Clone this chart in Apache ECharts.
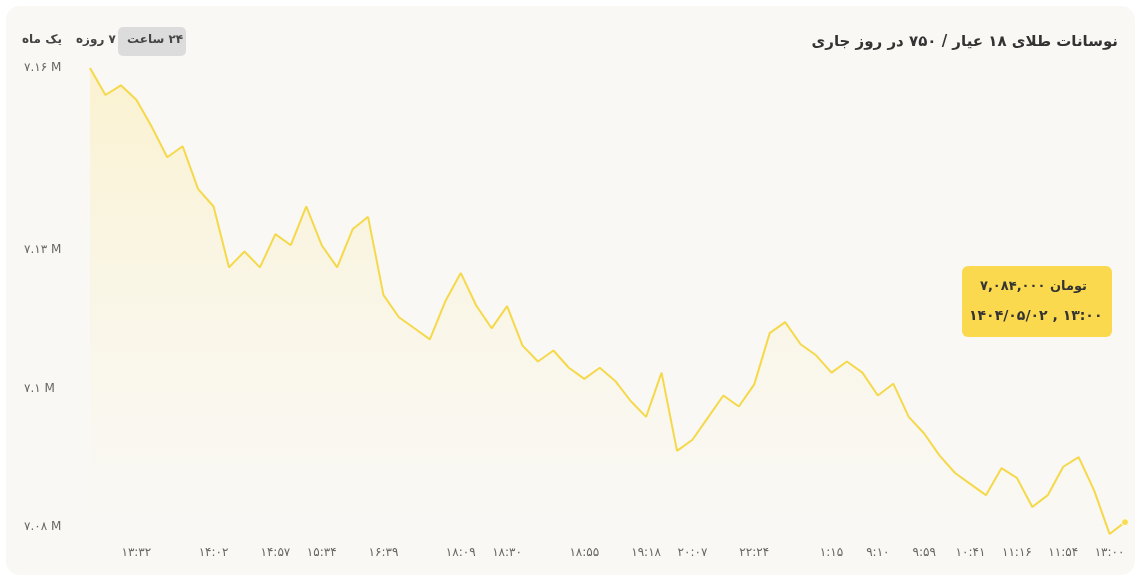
<!DOCTYPE html>
<html><head><meta charset="utf-8">
<script src="https://cdn.jsdelivr.net/npm/echarts@6/dist/echarts.min.js"></script>
<style>html,body{margin:0;background:#fff}#c{width:1141px;height:581px}</style></head>
<body><div id="c"></div>
<script>
const prices=[7146300,7142400,7143800,7141700,7137800,7133400,7135000,7128800,7126300,7117500,7119800,7117500,7122300,7120700,7126300,7120700,7117500,7123000,7124800,7113500,7110300,7108700,7107100,7112600,7116700,7112000,7108700,7111900,7106200,7103900,7105500,7103000,7101400,7103000,7101100,7098200,7095900,7102300,7091000,7092600,7095800,7099000,7097400,7100600,7108000,7109600,7106400,7104800,7102300,7103900,7102300,7099000,7100700,7095900,7093500,7090300,7087800,7086200,7084600,7088500,7087100,7082900,7084600,7088700,7090100,7085300,7079000,7080700];
const xLabels={3:'۱۳:۳۲',8:'۱۴:۰۲',12:'۱۴:۵۷',15:'۱۵:۳۴',19:'۱۶:۳۹',24:'۱۸:۰۹',27:'۱۸:۳۰',32:'۱۸:۵۵',36:'۱۹:۱۸',39:'۲۰:۰۷',43:'۲۲:۲۴',48:'۱:۱۵',51:'۹:۱۰',54:'۹:۵۹',57:'۱۰:۴۱',60:'۱۱:۱۶',63:'۱۱:۵۴',66:'۱۳:۰۰'};
const yLabels={7080000:'۷.۰۸ M',7100000:'۷.۱ M',7120000:'۷.۱۳ M',7146300:'۷.۱۶ M'};
const title='نوسانات طلای ۱۸ عیار / ۷۵۰ در روز جاری';
const tabs=['یک ماه','۷ روزه','۲۴ ساعت'];
const tipPrice='۷,۰۸۴,۰۰۰ تومان';
const tipDate='۱۴۰۴/۰۵/۰۲ , ۱۳:۰۰';
const cats=prices.map((_,i)=>i);
const F='DejaVu Sans';
const RLM='\u200F';
const data=prices.map((v,i)=>i===prices.length-1?{value:v,symbol:'circle',symbolSize:7,itemStyle:{color:'#f7dd55',borderColor:'#fff',borderWidth:1}}:v);
const chart=echarts.init(document.getElementById('c'));
chart.setOption({
 backgroundColor:'#fff',
 animation:false,
 grid:{left:90,right:16,top:68,bottom:54},
 title:{text:title,right:18,top:30,textStyle:{fontFamily:F,fontSize:15,fontWeight:'bold',color:'#333'}},
 xAxis:{type:'category',data:cats,boundaryGap:false,axisLine:{show:false},axisTick:{show:false},
  axisLabel:{interval:0,margin:20,fontFamily:F,fontSize:12,color:'#666',formatter:(v)=>xLabels[v]||''}},
 yAxis:{type:'value',min:7080000,max:7146300,interval:20000,splitLine:{show:false},
  axisLabel:{inside:true,showMaxLabel:true,margin:-66,fontFamily:F,fontSize:12,color:'#666',verticalAlign:'middle',align:'left',formatter:(v)=>yLabels[v]||''}},
 series:[{type:'line',data:data,clip:false,showSymbol:true,symbol:'none',lineStyle:{color:'#f5d94a',width:2},
  areaStyle:{color:new echarts.graphic.LinearGradient(0,0,0,1,[{offset:0,color:'rgba(252,232,150,0.55)'},{offset:1,color:'rgba(252,240,200,0)'}])}}],
 graphic:[
  {type:'rect',left:0,top:0,shape:{width:1141,height:581,r:0},style:{fill:'#fff'},z:-20},
  {type:'rect',left:6,top:6,shape:{width:1129,height:569,r:14},style:{fill:'#f9f8f4'},z:-10},
  {type:'rect',left:118,top:27,shape:{width:68,height:29,r:5},style:{fill:'#dcdcdc'},z:5},
  {type:'text',left:127,top:34,style:{text:RLM+tabs[2],font:'bold 12px "DejaVu Sans"',fill:'#444'},z:6},
  {type:'text',left:76,top:34,style:{text:RLM+tabs[1],font:'bold 12px "DejaVu Sans"',fill:'#444'},z:6},
  {type:'text',left:22,top:34,style:{text:RLM+tabs[0],font:'bold 12px "DejaVu Sans"',fill:'#444'},z:6},
  {type:'rect',left:962,top:266,shape:{width:150,height:71,r:6},style:{fill:'#fbd94f'},z:10},
  {type:'text',left:980,top:280,style:{text:tipPrice,font:'bold 13px "DejaVu Sans"',fill:'#333'},z:11},
  {type:'text',left:969,top:309,style:{text:tipDate,font:'bold 14px "DejaVu Sans"',fill:'#333'},z:11}
 ]
});
</script></body></html>
